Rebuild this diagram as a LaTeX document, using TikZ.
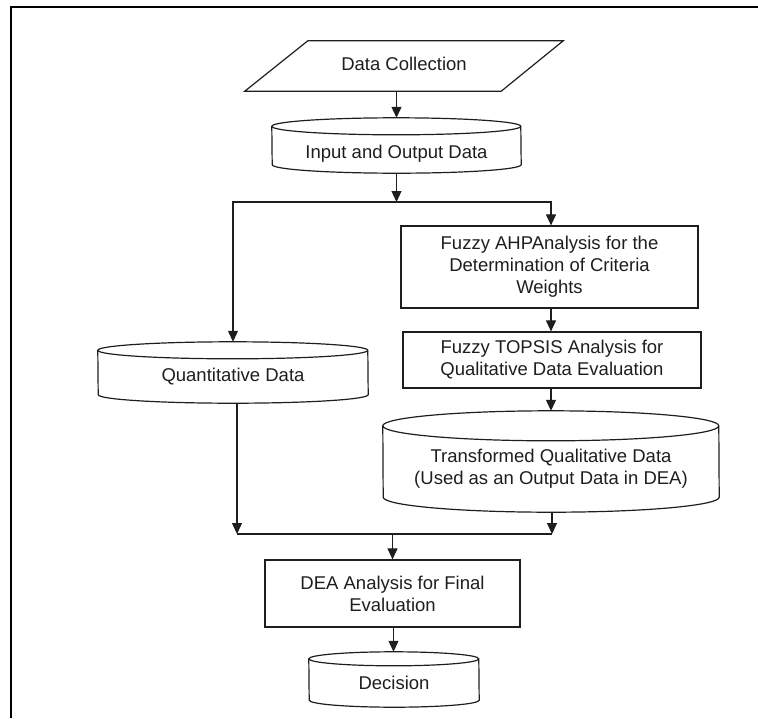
\documentclass[tikz,border=0pt]{standalone}
\usepackage{fontspec}
\setmainfont{Liberation Sans}
\usetikzlibrary{arrows.meta,calc}
\definecolor{ink}{HTML}{1E1E1E}
\newcommand{\cylshape}[3]{%
  \draw[shapeline] ([yshift=-#3]#1.north west) arc[start angle=180,end angle=0,x radius=#2,y radius=#3]
     -- ([yshift=#3]#1.south east) arc[start angle=0,end angle=-180,x radius=#2,y radius=#3] -- cycle;
  \draw[shapeline] ([yshift=-#3]#1.north west) arc[start angle=180,end angle=360,x radius=#2,y radius=#3];}
\tikzset{
  shapeline/.style={draw=ink, line width=1.2pt},
  ln/.style={draw=ink, line width=1.1pt},
  arr/.style={ln, -{Triangle[width=10pt,length=11pt]}},
  area/.style={draw=none, inner sep=0pt},
  boxn/.style={draw=ink, line width=1.2pt, inner sep=0pt, align=center, text=ink, font=\fontsize{18.5}{22}\selectfont},
  txt/.style={inner sep=0pt, align=center, text=ink, font=\fontsize{18.5}{22}\selectfont},
}
\begin{document}
\begin{tikzpicture}[x=1pt,y=-1pt]
\useasboundingbox (0,0) rectangle (758,718);
% frame
\draw[draw=black, line width=2.5pt] (11,718) -- (11,7) -- (758,7);

% Data Collection (parallelogram)
\node[area, minimum width=318pt, minimum height=50pt] (dc) at (404,66) {};
\draw[shapeline] (dc.south west) -- ([xshift=63pt]dc.north west) -- (dc.north east) -- ([xshift=-62pt]dc.south east) -- cycle;
\node[txt] (dct) at (404,64) {Data Collection};

% Input and Output Data
\node[area, minimum width=249pt, minimum height=55pt] (io) at (396.5,145.5) {};
\cylshape{io}{124.5pt}{8.5pt}
\node[txt] (iot) at (396.5,154) {Input and Output Data};

\coordinate (split) at (396.5,202);

% Fuzzy AHP
\node[boxn, minimum width=297pt, minimum height=82pt] (ahp) at (549.5,267)
  {Fuzzy AHPAnalysis for the\\Determination of Criteria\\Weights};
% Fuzzy TOPSIS
\node[boxn, minimum width=298pt, minimum height=56pt] (tops) at (552,360)
  {Fuzzy TOPSIS Analysis for\\Qualitative Data Evaluation};
% Transformed
\node[area, minimum width=336pt, minimum height=101pt] (tq) at (551,461.5) {};
\cylshape{tq}{168pt}{15pt}
\node[txt] (tqt) at (551,468.5) {Transformed Qualitative Data\\(Used as an Output Data in DEA)};

% Quantitative
\node[area, minimum width=270pt, minimum height=61pt] (qd) at (233,372.5) {};
\cylshape{qd}{135pt}{8.5pt}
\node[txt] (qdt) at (233,377) {Quantitative Data};

\coordinate (merge) at (392.5,534);

% DEA
\node[boxn, minimum width=255pt, minimum height=67pt] (dea) at (392.5,593.5)
  {DEA Analysis for Final\\Evaluation};
% Decision
\node[area, minimum width=170pt, minimum height=55pt] (dec) at (394,679.5) {};
\cylshape{dec}{85pt}{7pt}
\node[txt] (dect) at (394,683) {Decision};

% connectors
\draw[arr] (dc.south -| io.north) -- (io.north);
\draw[arr] (io.south) -- (split);
\draw[arr] (split) -| (qd.north);
\draw[arr] (split) -| ([xshift=1.5pt]ahp.north);
\draw[arr] ([xshift=1.5pt]ahp.south) -- ([xshift=1.5pt]ahp.south |- tops.north);
\draw[arr] ([xshift=1.5pt]ahp.south |- tops.south) -- ([xshift=1.5pt]ahp.south |- tq.north);
\draw[arr] ([xshift=4pt]qd.south) -- ([xshift=4pt]qd.south |- merge);
\draw[arr] ([xshift=1pt]tq.south) -- ([xshift=1pt]tq.south |- merge);
\draw[ln] ([xshift=4pt]qd.south |- merge) -- ([xshift=1pt]tq.south |- merge);
\draw[arr] (merge) -- (dea.north);
\draw[arr] ([xshift=1pt]dea.south) -- ([xshift=1pt]dea.south |- dec.north);
\end{tikzpicture}
\end{document}
